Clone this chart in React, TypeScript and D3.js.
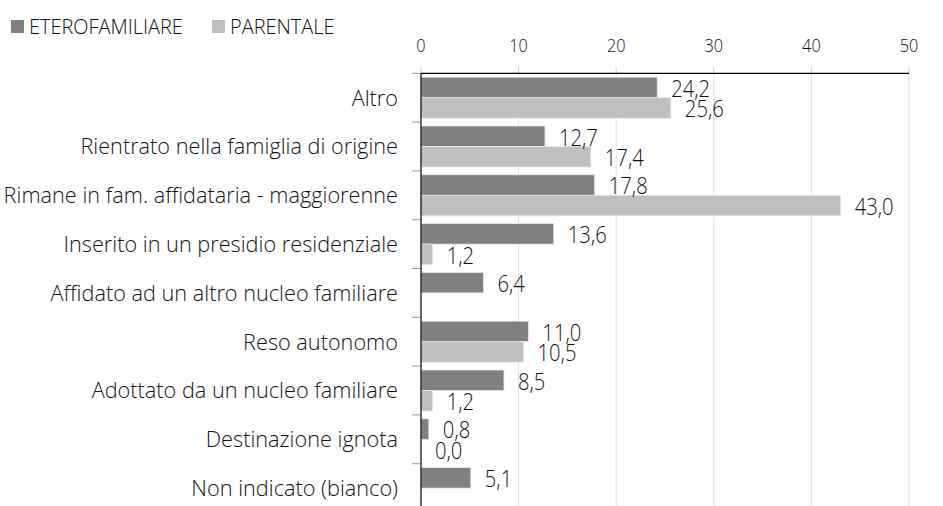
import React, { useEffect, useRef } from 'react';
import * as d3 from 'd3';

const categories = [
  'Altro',
  'Rientrato nella famiglia di origine',
  'Rimane in fam. affidataria - maggiorenne',
  'Inserito in un presidio residenziale',
  'Affidato ad un altro nucleo familiare',
  'Reso autonomo',
  'Adottato da un nucleo familiare',
  'Destinazione ignota',
  'Non indicato (bianco)',
];
const seriesNames = ['ETEROFAMILIARE', 'PARENTALE'];
const eteroValues = [24.2, 12.7, 17.8, 13.6, 6.4, 11.0, 8.5, 0.8, 5.1];
const parentaleValues: (number | null)[] = [25.6, 17.4, 43.0, 1.2, null, 10.5, 1.2, 0.0, null];
const xTicks = [0, 10, 20, 30, 40, 50];
const colors = ['#808080', '#bfbfbf'];

const width = 943;
const height = 506;
const font = '"Open Sans", sans-serif';
const squeeze = 0.86; // narrow look of the numbers

export default function App() {
  const svgRef = useRef<SVGSVGElement>(null);

  useEffect(() => {
    if (!svgRef.current) return;
    const svg = d3.select(svgRef.current);
    svg.selectAll('*').remove();

    const x = d3.scaleLinear().domain([0, 50]).range([421, 909]);
    const y = d3.scaleBand().domain(categories).range([73.3, 512.5]).padding(0);
    const ySub = d3.scaleBand().domain(seriesNames).range([0, y.bandwidth()]).paddingInner(0).paddingOuter(0.19);
    const fmt = (v: number) => d3.format('.1f')(v).replace('.', ',');

    // grid lines
    svg.append('g')
      .selectAll('line')
      .data(xTicks.slice(1))
      .enter()
      .append('line')
      .attr('x1', d => x(d)).attr('x2', d => x(d))
      .attr('y1', 73.3).attr('y2', height)
      .attr('stroke', '#e3e3e3').attr('stroke-width', 1);

    // top axis tick marks
    svg.append('g')
      .selectAll('line')
      .data(xTicks)
      .enter()
      .append('line')
      .attr('x1', d => x(d)).attr('x2', d => x(d))
      .attr('y1', 67).attr('y2', 73.3)
      .attr('stroke', '#cfcfcf');

    svg.append('g')
      .selectAll('text')
      .data(xTicks)
      .enter()
      .append('text')
      .attr('transform', d => `translate(${x(d)},52) scale(${squeeze},1)`)
      .attr('text-anchor', 'middle')
      .attr('font-family', font)
      .attr('font-weight', 300)
      .attr('font-size', 19)
      .attr('fill', '#111')
      .text(d => d);

    // left tick marks at band edges
    const edges = categories.map(c => y(c) as number);
    svg.append('g')
      .selectAll('line')
      .data(edges)
      .enter()
      .append('line')
      .attr('x1', 412).attr('x2', 421)
      .attr('y1', d => d).attr('y2', d => d)
      .attr('stroke', '#9a9a9a');

    // category labels
    svg.append('g')
      .selectAll('text')
      .data(categories)
      .enter()
      .append('text')
      .attr('x', 398)
      .attr('y', d => (y(d) as number) + y.bandwidth() / 2)
      .attr('dy', '0.36em')
      .attr('text-anchor', 'end')
      .attr('font-family', font)
      .attr('font-weight', 300)
      .attr('font-size', 21.7)
      .attr('fill', '#111')
      .text(d => d);

    const rows = categories.map((c, i) => ({ c, vals: [eteroValues[i], parentaleValues[i]] }));
    const bars = rows.flatMap(r => r.vals.map((v, k) => ({ c: r.c, s: seriesNames[k], k, v })))
      .filter(d => d.v !== null) as { c: string; s: string; k: number; v: number }[];

    svg.append('g')
      .selectAll('rect')
      .data(bars)
      .enter()
      .append('rect')
      .attr('x', x(0))
      .attr('y', d => (y(d.c) as number) + (ySub(d.s) as number))
      .attr('width', d => x(d.v) - x(0))
      .attr('height', ySub.bandwidth())
      .attr('fill', d => colors[d.k])
      .attr('stroke', '#e6e6e6')
      .attr('stroke-width', 0.8);

    svg.append('g')
      .selectAll('text')
      .data(bars)
      .enter()
      .append('text')
      .attr('transform', d =>
        `translate(${x(d.v) + 14},${(y(d.c) as number) + (ySub(d.s) as number) + ySub.bandwidth() - 1}) scale(${squeeze},1)`)
      .attr('font-family', font)
      .attr('font-weight', 300)
      .attr('font-size', 23.5)
      .attr('fill', '#111')
      .text(d => fmt(d.v));

    // axes lines
    svg.append('line')
      .attr('x1', x(0)).attr('x2', x(50))
      .attr('y1', 73.3).attr('y2', 73.3)
      .attr('stroke', '#000').attr('stroke-width', 1.2);
    svg.append('line')
      .attr('x1', x(0)).attr('x2', x(0))
      .attr('y1', 73.3).attr('y2', height)
      .attr('stroke', '#000').attr('stroke-width', 1.2);

    // legend
    const legendX = [11, 212];
    const lg = svg.append('g');
    seriesNames.forEach((s, i) => {
      lg.append('rect')
        .attr('x', legendX[i]).attr('y', 20)
        .attr('width', 13).attr('height', 13)
        .attr('fill', colors[i]);
      lg.append('text')
        .attr('transform', `translate(${legendX[i] + 18},34) scale(0.95,1)`)
        .attr('font-family', font)
        .attr('font-weight', 300)
        .attr('font-size', 21)
        .attr('fill', '#111')
        .text(s);
    });
  }, []);

  return (
    <div style={{ position: 'fixed', left: 0, top: 0, width, height, background: '#fff' }}>
      <svg ref={svgRef} width={width} height={height} style={{ display: 'block', overflow: 'hidden' }} />
    </div>
  );
}
